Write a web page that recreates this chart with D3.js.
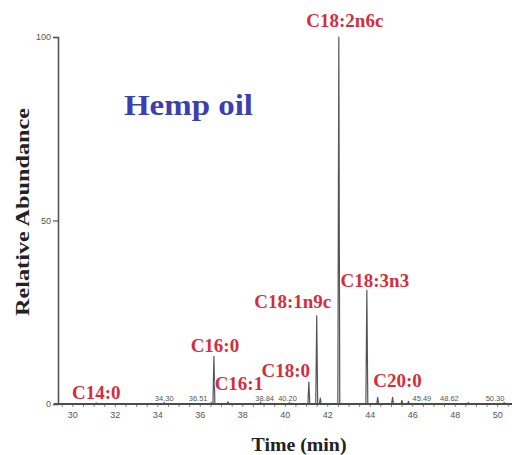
<!DOCTYPE html>
<html>
<head>
<meta charset="utf-8">
<script src="https://cdn.jsdelivr.net/npm/d3@7"></script>
<style>
  html, body { margin: 0; padding: 0; background: #fff; }
  svg { display: block; }
</style>
</head>
<body>
<svg id="chart" width="519" height="455"></svg>
<script>
// GC-MS total ion chromatogram of fatty acid methyl esters, hemp oil.

// Retention time (min) and relative abundance (%) of every peak on the trace
const peakTimes   = [31.10, 34.30, 36.51, 36.64, 37.30, 38.84, 40.20, 41.11, 41.48, 41.65, 42.52, 43.84, 44.35, 45.05, 45.49, 45.80, 48.62, 50.30];
const peakHeights = [0.3,   0.4,   0.4,   13,    0.6,   0.5,   0.4,   6,     24,    1.6,   100,   31,    1.8,   1.8,   1.0,   0.7,   0.4,   0.4];

// Identified fatty acids and the retention time of their peak
const compoundNames = ["C14:0", "C16:0", "C16:1", "C18:0", "C18:1n9c", "C18:2n6c", "C18:3n3", "C20:0"];
const compoundTimes = [31.10,   36.64,   37.30,   41.11,   41.48,      42.52,      43.84,     45.05];

// Retention-time annotations printed by the data system
const rtLabels = ["34.30", "36.51", "38.84", "40.20", "45.49", "48.62", "50.30"];
const rtTimes  = [34.30,   36.51,   38.84,   40.20,   45.49,   48.62,   50.30];

// Axis ticks
const xTicks = [30, 32, 34, 36, 38, 40, 42, 44, 46, 48, 50];
const yTicks = [0, 50, 100];

const title = "Hemp oil";
const xTitle = "Time (min)";
const yTitle = "Relative Abundance";

// ---- layout ----
const svg = d3.select("#chart");
const serif = "'Liberation Serif', 'Times New Roman', serif";
const sans = "'Liberation Sans', Arial, sans-serif";

const x = d3.scaleLinear().domain([29.3, 50.65]).range([58, 511.5]);
const y = d3.scaleLinear().domain([0, 100]).range([404, 37]);

// label offsets (px) from each peak apex
const compoundOffsets = {
  "C14:0":    [0, -4],
  "C16:0":    [1, -4],
  "C16:1":    [11, -12],
  "C18:0":    [-23, -5],
  "C18:1n9c": [-24, -8],
  "C18:2n6c": [6, -10],
  "C18:3n3":  [8, -3],
  "C20:0":    [5, -10]
};
const rtOffsets = {
  "34.30": 0, "36.51": -13, "38.84": 4, "40.20": -2,
  "45.49": 20, "48.62": -19, "50.30": -9
};

// ---- x axis ----
const minorTicks = d3.range(29.5, 50.6, 0.5);
const xAxisG = svg.append("g");
xAxisG.selectAll("line.minor")
  .data(minorTicks)
  .join("line")
  .attr("x1", d => x(d)).attr("x2", d => x(d))
  .attr("y1", y(0)).attr("y2", y(0) + 3)
  .attr("stroke", "#666").attr("stroke-width", 0.8);
xAxisG.selectAll("text")
  .data(xTicks)
  .join("text")
  .attr("x", d => x(d))
  .attr("y", y(0) + 14)
  .attr("text-anchor", "middle")
  .attr("font-family", sans)
  .attr("font-size", 9)
  .attr("fill", "#555")
  .text(d => d);
xAxisG.append("line")
  .attr("x1", 54).attr("x2", 512)
  .attr("y1", y(0)).attr("y2", y(0))
  .attr("stroke", "#444").attr("stroke-width", 2);

// ---- y axis ----
const yAxis = d3.axisLeft(y).tickValues(yTicks).tickSize(5).tickPadding(2);
const yAxisG = svg.append("g")
  .attr("transform", `translate(${x.range()[0]},0)`)
  .call(yAxis);
yAxisG.select(".domain").attr("stroke", "#555").attr("stroke-width", 1.6);
yAxisG.selectAll(".tick line").attr("stroke", "#555").attr("stroke-width", 1.2);
yAxisG.selectAll(".tick text")
  .attr("font-family", sans)
  .attr("font-size", 9)
  .attr("fill", "#555");

// ---- chromatogram trace ----
const halfWidth = 0.045; // peak half-width at base, min
const tracePts = [[x.domain()[0] + 0.05, 0]];
peakTimes.forEach((t, i) => {
  tracePts.push([t - halfWidth, 0], [t, peakHeights[i]], [t + halfWidth, 0]);
});
tracePts.push([x.domain()[1] - 0.05, 0]);

const line = d3.line().x(d => x(d[0])).y(d => y(d[1]));
svg.append("path")
  .attr("d", line(tracePts))
  .attr("fill", "none")
  .attr("stroke", "#555")
  .attr("stroke-width", 1.2)
  .attr("stroke-linejoin", "round");

// ---- retention-time annotations ----
svg.append("g")
  .selectAll("text")
  .data(rtLabels)
  .join("text")
  .attr("x", (d, i) => x(rtTimes[i]) + rtOffsets[d])
  .attr("y", y(0) - 3)
  .attr("text-anchor", "middle")
  .attr("font-family", sans)
  .attr("font-size", 7.5)
  .attr("fill", "#555")
  .text(d => d);

// ---- compound labels ----
svg.append("g")
  .selectAll("text")
  .data(compoundNames)
  .join("text")
  .attr("x", (d, i) => x(compoundTimes[i]) + compoundOffsets[d][0])
  .attr("y", (d, i) => y(peakHeights[peakTimes.indexOf(compoundTimes[i])]) + compoundOffsets[d][1])
  .attr("text-anchor", "middle")
  .attr("font-family", serif)
  .attr("font-weight", "bold")
  .attr("font-size", 19)
  .attr("fill", "#d42d3c")
  .attr("stroke", "#fff")
  .attr("stroke-width", 2)
  .attr("paint-order", "stroke")
  .text(d => d);

// ---- titles ----
svg.append("text")
  .attr("x", 124).attr("y", 115)
  .attr("font-family", serif)
  .attr("font-weight", "bold")
  .attr("font-size", 30)
  .attr("fill", "#3b3fb0")
  .attr("textLength", 129)
  .attr("lengthAdjust", "spacingAndGlyphs")
  .text(title);

svg.append("text")
  .attr("x", 299).attr("y", 451)
  .attr("text-anchor", "middle")
  .attr("font-family", serif)
  .attr("font-weight", "bold")
  .attr("font-size", 19)
  .attr("fill", "#222")
  .attr("textLength", 95)
  .attr("lengthAdjust", "spacingAndGlyphs")
  .text(xTitle);

svg.append("text")
  .attr("transform", "translate(29,212) rotate(-90)")
  .attr("text-anchor", "middle")
  .attr("font-family", serif)
  .attr("font-weight", "bold")
  .attr("font-size", 19)
  .attr("fill", "#222")
  .attr("textLength", 208)
  .attr("lengthAdjust", "spacingAndGlyphs")
  .text(yTitle);
</script>
</body>
</html>
